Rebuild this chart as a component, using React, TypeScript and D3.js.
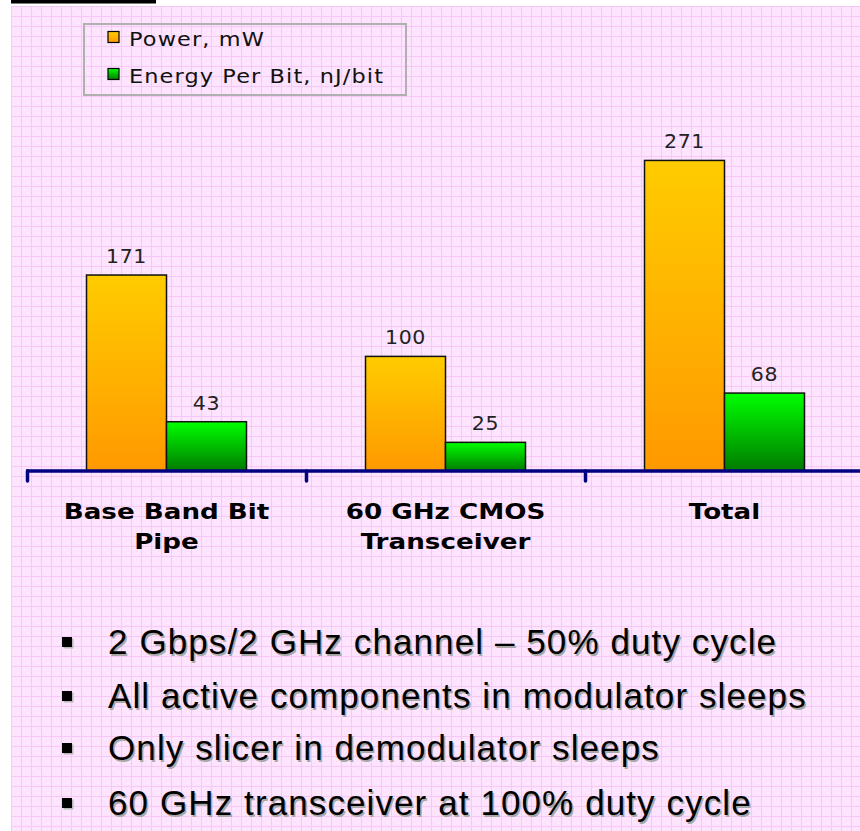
import React from "react";
import * as d3 from "d3";

const categories = [["Base Band Bit", "Pipe"], ["60 GHz CMOS", "Transceiver"], ["Total"]];
const seriesNames = ["Power, mW", "Energy Per Bit, nJ/bit"];
const powerValues = [171, 100, 271];
const energyValues = [43, 25, 68];
const bullets = [
  "2 Gbps/2 GHz channel – 50% duty cycle",
  "All active components in modulator sleeps",
  "Only slicer in demodulator sleeps",
  "60 GHz transceiver at 100% duty cycle",
];

const W = 860;
const H = 831;
const bulletBaselines = [654, 708, 760, 815];

export default function App() {
  const catKeys = categories.map((c) => c.join(" "));
  const x = d3.scaleBand<string>().domain(catKeys).range([27, 864]).paddingInner(0).paddingOuter(0);
  const xi = d3.scaleBand<string>().domain(seriesNames).range([0, x.bandwidth()]).paddingInner(0).paddingOuter(0.744);
  const y = d3.scaleLinear().domain([0, 300]).range([471, 471 - 300 * 1.146]);
  const series = [powerValues, energyValues];
  const grads = ["gOrange", "gGreen"];
  const baseY = y(0);
  const font = "'DejaVu Sans', Verdana, sans-serif";
  const arial = "'Liberation Sans', Arial, sans-serif";

  return (
    <svg width={W} height={H} style={{ position: "absolute", left: 0, top: 0 }} xmlns="http://www.w3.org/2000/svg">
      <defs>
        <pattern id="grid" width="10" height="10" patternUnits="userSpaceOnUse" x="11" y="6">
          <rect width="10" height="10" fill="#fde3fd" />
          <path d="M0 0.5 H10 M0.5 0 V10" stroke="#f7c8f7" strokeWidth="1" />
          <circle cx="3" cy="3" r="0.6" fill="#ffffff" />
          <circle cx="7" cy="7" r="0.6" fill="#ffffff" />
        </pattern>
        <linearGradient id="gOrange" x1="0" y1="0" x2="0" y2="1">
          <stop offset="0" stopColor="#ffcc00" />
          <stop offset="1" stopColor="#ff9900" />
        </linearGradient>
        <linearGradient id="gGreen" x1="0" y1="0" x2="0" y2="1">
          <stop offset="0" stopColor="#00ff00" />
          <stop offset="1" stopColor="#007a00" />
        </linearGradient>
      </defs>
      <rect width={W} height={H} fill="#ffffff" />
      <rect x={11} y={6} width={W - 11} height={H - 6} fill="url(#grid)" />
      <rect x={11} y={0} width={145} height={3.5} fill="#000000" />

      {/* legend */}
      <rect x={84} y={24} width={322} height={71} fill="none" stroke="#b0b0b0" strokeWidth={2} />
      {seriesNames.map((s, i) => (
        <g key={s} transform={`translate(108, ${31.5 + i * 37})`}>
          <rect x={0} y={0} width={11} height={11} fill={`url(#${grads[i]})`} stroke="#000" strokeWidth={1.2} />
          <text transform="translate(21, 14) scale(1.12, 1)" fontFamily={font} fontSize={20} letterSpacing={1} fill="#111">{s}</text>
        </g>
      ))}

      {/* bars */}
      {catKeys.map((c, ci) =>
        series.map((vals, si) => {
          const bx = (x(c) as number) + (xi(seriesNames[si]) as number);
          const by = y(vals[ci]);
          return (
            <g key={c + si}>
              <rect x={bx} y={by} width={xi.bandwidth()} height={baseY - by} fill={`url(#${grads[si]})`} stroke="#111" strokeWidth={1.5} />
              <text transform={`translate(${bx + xi.bandwidth() / 2}, ${by - 12}) scale(1.08, 1)`} textAnchor="middle" fontFamily={font} fontSize={19} letterSpacing={0.6} fill="#222">
                {vals[ci]}
              </text>
            </g>
          );
        })
      )}

      {/* axis */}
      <line x1={26} x2={W} y1={baseY} y2={baseY} stroke="#000080" strokeWidth={3.5} />
      {catKeys.map((c) => (
        <line key={"t" + c} x1={(x(c) as number) + 0.5} x2={(x(c) as number) + 0.5} y1={baseY} y2={baseY + 10} stroke="#000080" strokeWidth={3.5} strokeLinecap="round" />
      ))}
      {categories.map((lines, ci) => {
        const cx = (x(catKeys[ci]) as number) + x.bandwidth() / 2;
        return lines.map((l, li) => (
          <text key={"c" + ci + li} transform={`translate(${cx}, ${519 + li * 30}) scale(1.19, 1)`} textAnchor="middle" fontFamily={font} fontWeight="bold" fontSize={22} fill="#000">
            {l}
          </text>
        ));
      })}

      {/* bullets */}
      {bullets.map((b, i) => {
        const by = bulletBaselines[i];
        return (
          <g key={b}>
            <rect x={63.5} y={by - 15.5} width={10} height={10} fill="#b8b8b8" />
            <rect x={62} y={by - 17} width={10} height={10} fill="#000" />
            <text x={109.5} y={by + 1.5} fontFamily={arial} fontSize={35} letterSpacing={1.1} fill="#a8a8a8">{b}</text>
            <text x={108} y={by} fontFamily={arial} fontSize={35} letterSpacing={1.1} fill="#000">{b}</text>
          </g>
        );
      })}
    </svg>
  );
}
